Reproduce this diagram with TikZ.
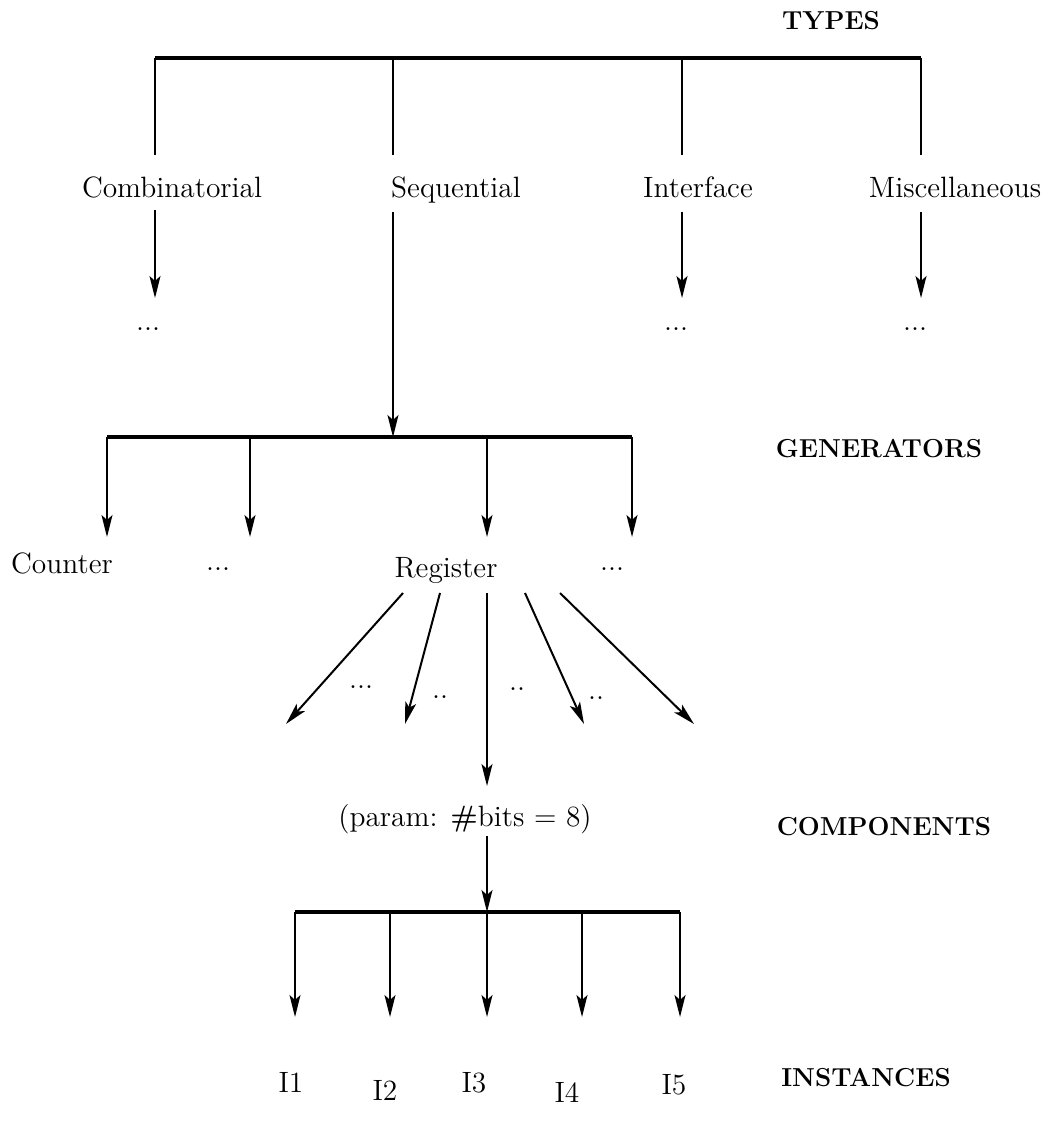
\documentclass[tikz,border=0pt]{standalone}
\usetikzlibrary{arrows.meta}
\begin{document}
\begin{tikzpicture}[x=0.5pt,y=-0.5pt,
  lbl/.style={inner sep=0pt,font=\fontsize{14.7}{17}\selectfont},
  lvl/.style={inner sep=0pt,font=\fontsize{13}{15}\selectfont\bfseries},
  conn/.style={line width=1pt},
  bar/.style={line width=1.7pt},
  arr/.style={line width=1pt,-{Stealth[length=11pt,width=5.5pt,inset=2.5pt]}}]
\useasboundingbox (0,0) rectangle (1044,1134);

% level names
\node[lvl] (types) at (831,21) {TYPES};
\node[lvl] (gens) at (879,449) {GENERATORS};
\node[lvl] (comps) at (884,827) {COMPONENTS};
\node[lvl] (insts) at (866,1078) {INSTANCES};

% types
\node[lbl,anchor=base] (comb) at (172,198) {Combinatorial};
\node[lbl,anchor=base] (seq) at (456,198) {Sequential};
\node[lbl,anchor=base] (intf) at (698,198) {Interface};
\node[lbl,anchor=base] (misc) at (955,198) {Miscellaneous};

\coordinate (t1) at (155,58);
\coordinate (t2) at (393,58);
\coordinate (t3) at (682,58);
\coordinate (t4) at (921,58);
\coordinate (u1) at (155,155);
\coordinate (u2) at (393,155);
\coordinate (u3) at (682,155);
\coordinate (u4) at (921,155);
\draw[bar] (t1) -- (t4);
\draw[conn] (t1) -- (u1);
\draw[conn] (t2) -- (u2);
\draw[conn] (t3) -- (u3);
\draw[conn] (t4) -- (u4);

% below the types
\node[lbl,anchor=base] (d1) at (148,330) {...};
\node[lbl,anchor=base] (d3) at (676,330) {...};
\node[lbl,anchor=base] (d4) at (915,330) {...};
\coordinate (a1) at (155,210);
\coordinate (b1) at (155,298);
\coordinate (a3) at (682,212);
\coordinate (b3) at (682,298);
\coordinate (a4) at (921,212);
\coordinate (b4) at (921,298);
\draw[arr] (a1) -- (b1);
\draw[arr] (a3) -- (b3);
\draw[arr] (a4) -- (b4);

% sequential to generators
\coordinate (a2) at (393,212);
\coordinate (g0) at (393,437);
\draw[arr] (a2) -- (g0);
\coordinate (g1) at (107,437);
\coordinate (g2) at (250,437);
\coordinate (g3) at (487,437);
\coordinate (g4) at (632,437);
\draw[bar] (g1) -- (g4);
\coordinate (h1) at (107,537);
\coordinate (h2) at (250,537);
\coordinate (h3) at (487,537);
\coordinate (h4) at (632,537);
\draw[arr] (g1) -- (h1);
\draw[arr] (g2) -- (h2);
\draw[arr] (g3) -- (h3);
\draw[arr] (g4) -- (h4);

\node[lbl,anchor=base] (counter) at (62,573) {Counter};
\node[lbl,anchor=base] (gd2) at (218,570) {...};
\node[lbl,anchor=base] (register) at (446,577) {Register};
\node[lbl,anchor=base] (gd4) at (612,570) {...};

% fan from register
\coordinate (f1) at (403,593);
\coordinate (f2) at (440,593);
\coordinate (f3) at (487,593);
\coordinate (f4) at (525,593);
\coordinate (f5) at (560,593);
\coordinate (e1) at (286,724);
\coordinate (e2) at (405,724);
\coordinate (e3) at (487,786);
\coordinate (e4) at (584,724);
\coordinate (e5) at (694,724);
\draw[arr] (f1) -- (e1);
\draw[arr] (f2) -- (e2);
\draw[arr] (f3) -- (e3);
\draw[arr] (f4) -- (e4);
\draw[arr] (f5) -- (e5);
\node[lbl,anchor=base] (fd1) at (361,688) {...};
\node[lbl,anchor=base] (fd2) at (440,698) {..};
\node[lbl,anchor=base] (fd3) at (517,690) {..};
\node[lbl,anchor=base] (fd4) at (596,699) {..};

\node[lbl,anchor=base] (param) at (465,826) {(param: \textbf{\#}bits = 8)};

% components to instances
\coordinate (p0) at (487,836);
\coordinate (k0) at (487,912);
\draw[arr] (p0) -- (k0);
\coordinate (k1) at (295,912);
\coordinate (k2) at (390,912);
\coordinate (k4) at (582,912);
\coordinate (k5) at (680,912);
\draw[bar] (k1) -- (k5);
\coordinate (m1) at (295,1017);
\coordinate (m2) at (390,1017);
\coordinate (m3) at (487,1017);
\coordinate (m4) at (582,1017);
\coordinate (m5) at (680,1017);
\draw[arr] (k1) -- (m1);
\draw[arr] (k2) -- (m2);
\draw[arr] (k0) -- (m3);
\draw[arr] (k4) -- (m4);
\draw[arr] (k5) -- (m5);

\node[lbl] (i1) at (291,1082) {I1};
\node[lbl] (i2) at (385,1090) {I2};
\node[lbl] (i3) at (474,1083) {I3};
\node[lbl] (i4) at (567,1092) {I4};
\node[lbl] (i5) at (674,1085) {I5};
\end{tikzpicture}
\end{document}
